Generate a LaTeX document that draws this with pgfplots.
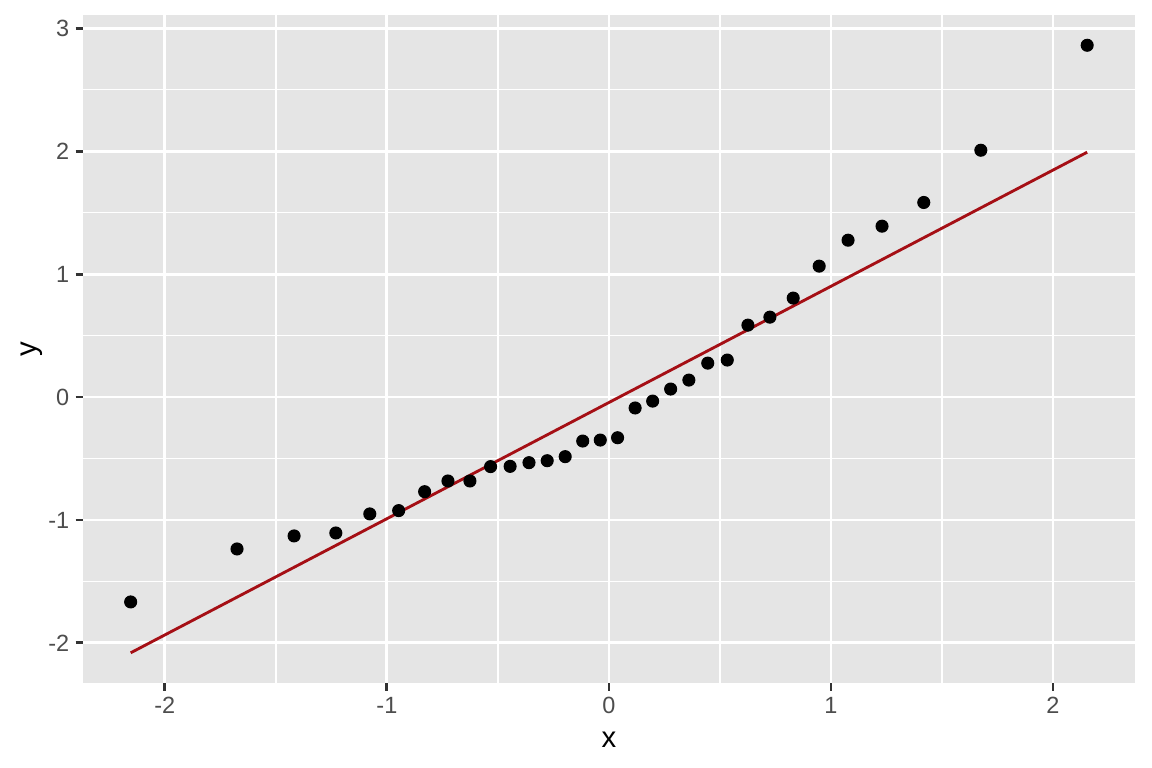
\documentclass[border=0pt]{standalone}
\usepackage{pgfplots}
\pgfplotsset{compat=1.18}
\usepackage{fontspec}
\setmainfont{Liberation Sans}
\definecolor{panelbg}{HTML}{E5E5E5}
\definecolor{gray30}{HTML}{4D4D4D}
\definecolor{gray20}{HTML}{333333}
\definecolor{qqred}{HTML}{A50F15}
\begin{document}
\begin{tikzpicture}
\path[use as bounding box, fill=white] (0,0) rectangle (432pt,288pt);
\begin{axis}[
  at={(31.1pt,31.8pt)}, anchor=south west,
  scale only axis, width=394.5pt, height=250.6pt,
  xmin=-2.369, xmax=2.369, ymin=-2.328, ymax=3.109,
  axis background/.style={fill=panelbg},
  axis line style={draw=none},
  xtick={-2,-1,0,1,2}, xticklabels={-2,-1,0,1,2},
  ytick={-2,-1,0,1,2,3}, yticklabels={-2,-1,0,1,2,3},
  minor xtick={-1.5,-0.5,0.5,1.5},
  minor ytick={-1.5,-0.5,0.5,1.5,2.5},
  grid=both,
  major grid style={white, line width=1.07pt},
  minor grid style={white, line width=0.53pt},
  tick align=outside, major tick length=2.75pt, minor tick length=0pt,
  tick style={gray20, line width=1.07pt},
  xtick pos=bottom, ytick pos=left,
  ticklabel style={font=\fontsize{8.8}{10}\selectfont, text=gray30, inner sep=0pt},
  xticklabel style={yshift=-2.2pt},
  yticklabel style={xshift=-2.2pt},
  xlabel={x}, ylabel={y},
  label style={font=\fontsize{11}{13}\selectfont, inner sep=0pt},
  xlabel style={at={(axis description cs:0.5,0)}, anchor=base, yshift=-24.1pt},
  ylabel style={at={(axis description cs:0,0.5)}, anchor=center, yshift=19pt},
  clip=false,
]
\addplot[only marks, mark=*, mark size=2.25pt, mark options={fill=black, draw=black}] coordinates {
(-2.154,-1.667) (-1.675,-1.236) (-1.418,-1.130) (-1.230,-1.106)
(-1.077,-0.951) (-0.947,-0.924) (-0.830,-0.770) (-0.725,-0.683)
(-0.626,-0.683) (-0.533,-0.566) (-0.445,-0.564) (-0.360,-0.534)
(-0.278,-0.518) (-0.197,-0.485) (-0.118,-0.358) (-0.039,-0.350)
(0.039,-0.331) (0.118,-0.089) (0.197,-0.033) (0.278,0.065)
(0.360,0.138) (0.445,0.276) (0.533,0.301) (0.626,0.585)
(0.725,0.650) (0.830,0.805) (0.947,1.065) (1.077,1.276)
(1.230,1.390) (1.418,1.583) (1.675,2.008) (2.154,2.862)
};
\addplot[qqred, line width=1.07pt] coordinates {(-2.154,-2.081) (2.154,1.992)};
\end{axis}
\end{tikzpicture}
\end{document}
